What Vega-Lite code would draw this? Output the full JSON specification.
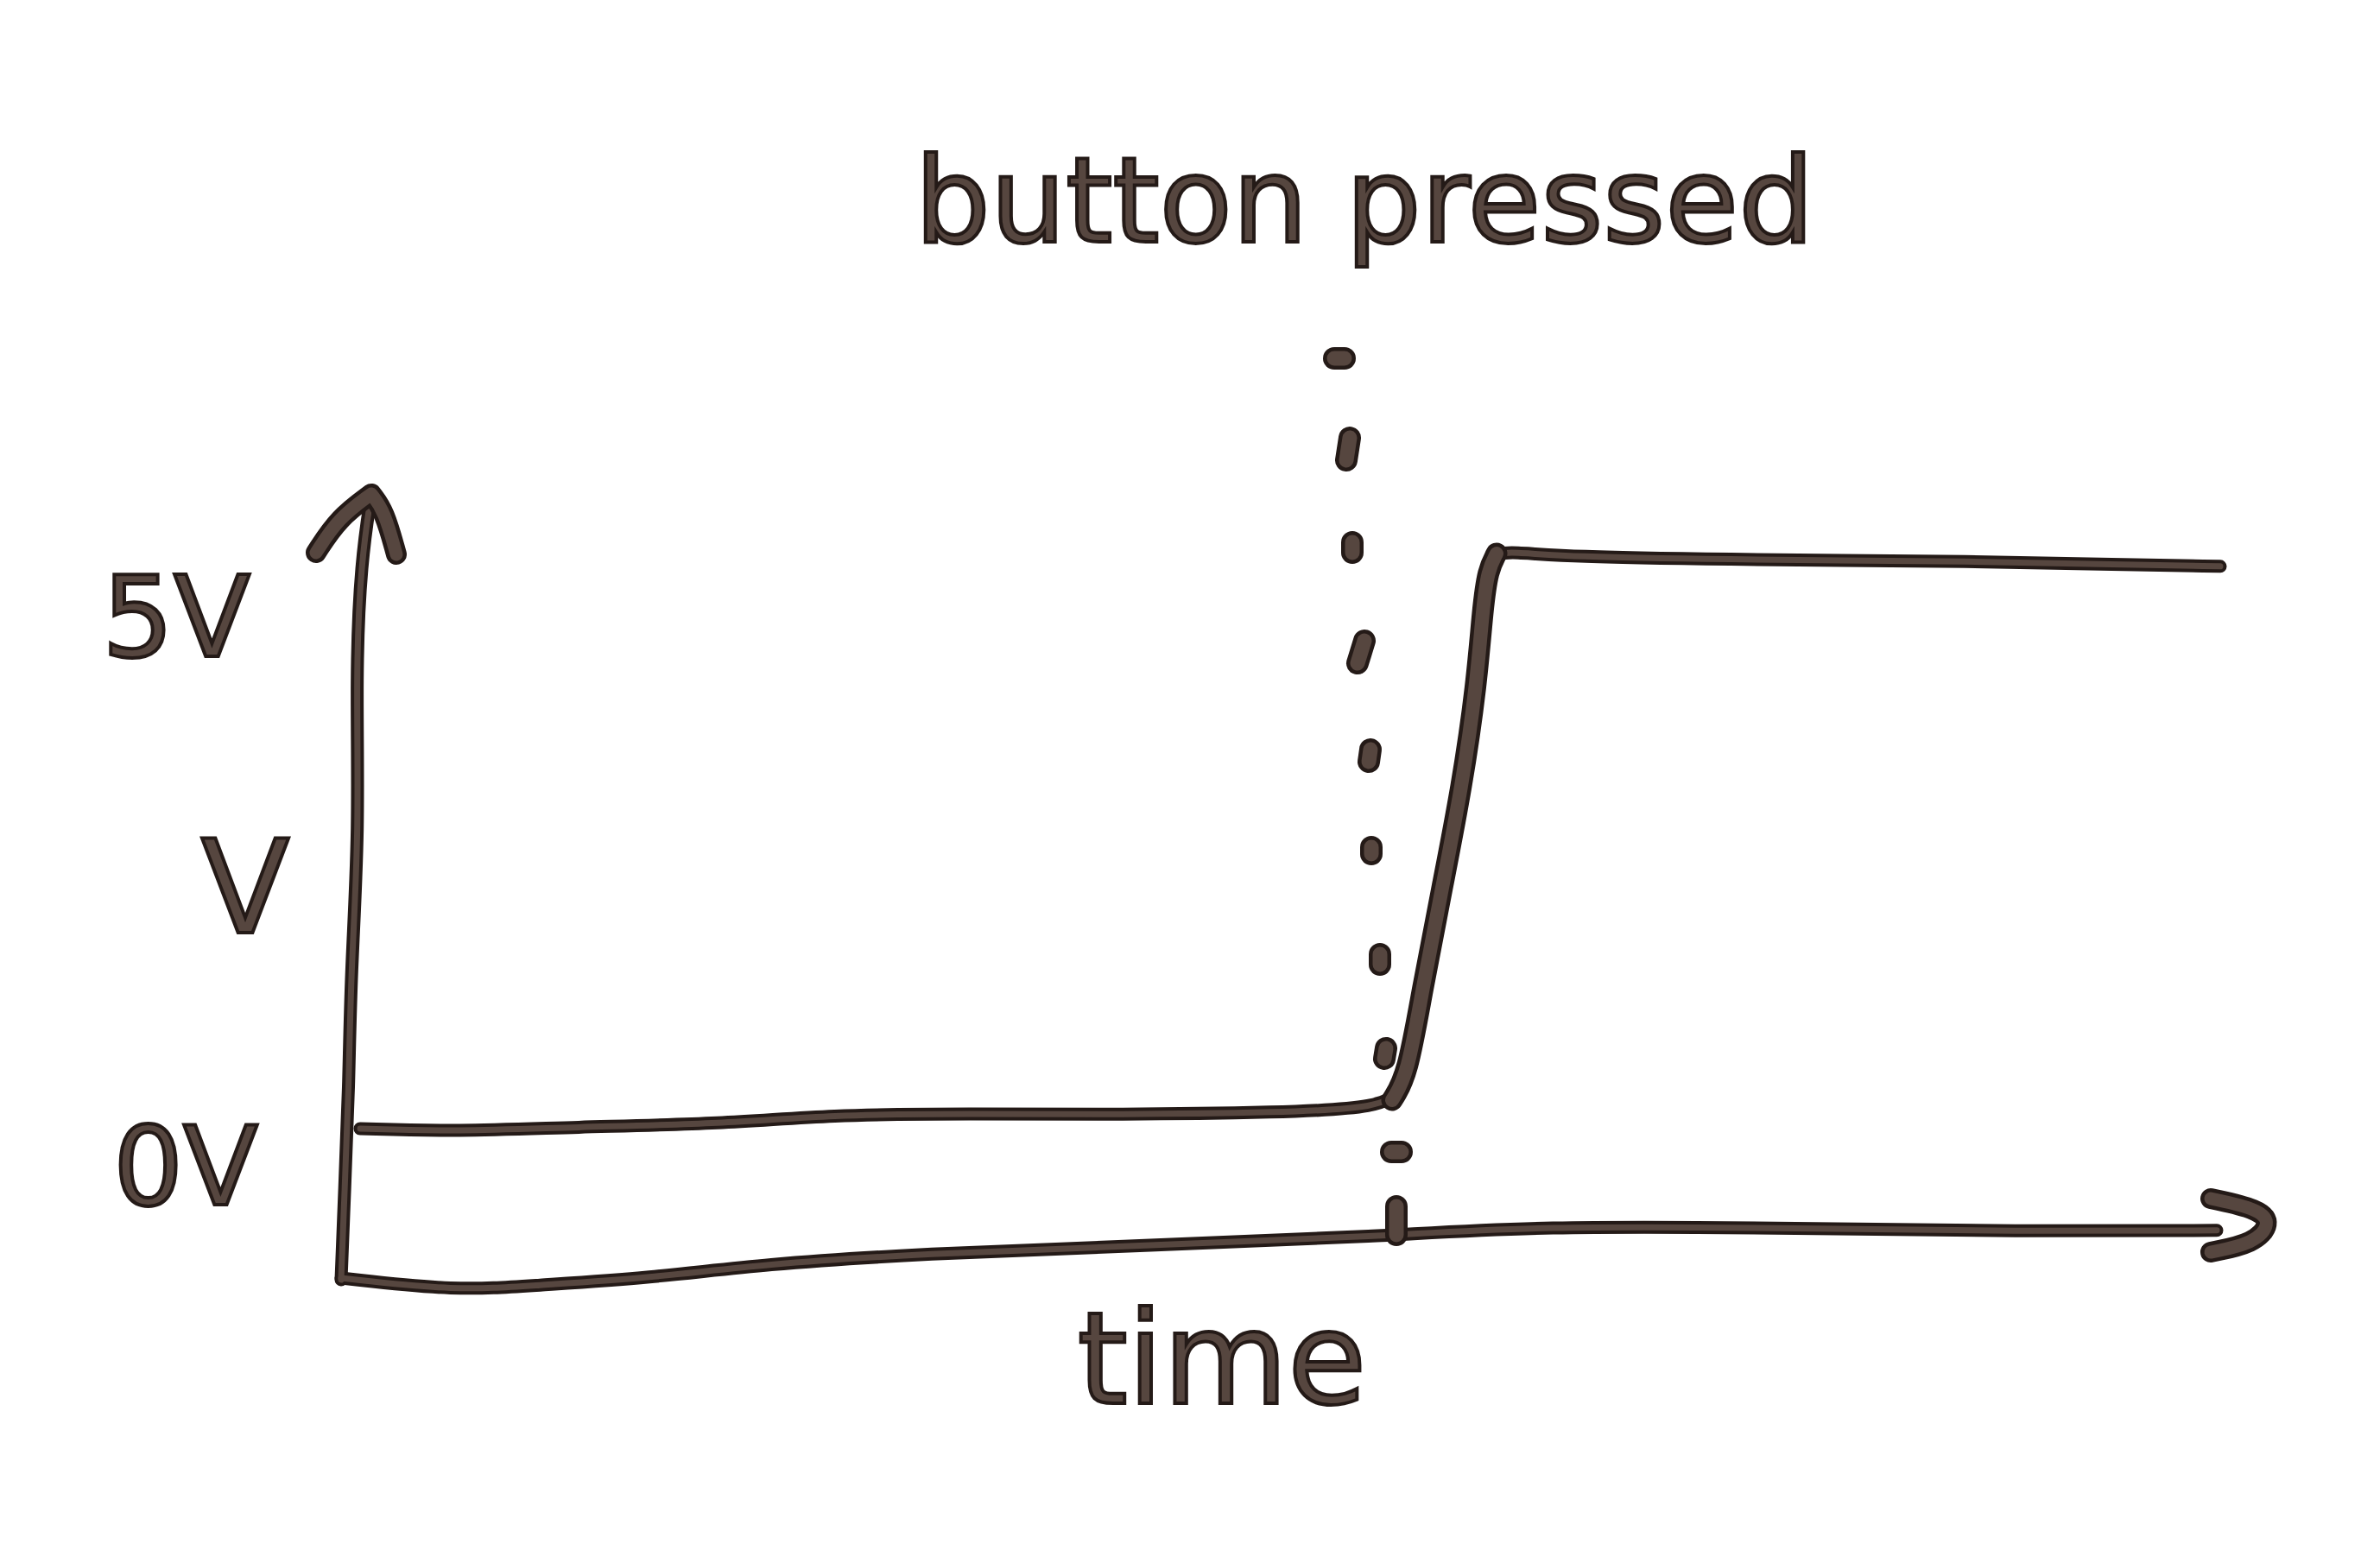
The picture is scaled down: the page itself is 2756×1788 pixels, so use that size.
{
  "$schema": "https://vega.github.io/schema/vega-lite/v6.json",
  "width": 2756,
  "height": 1788,
  "autosize": {"type": "fit", "contains": "padding"},
  "padding": 0,
  "background": "#ffffff",
  "config": {"view": {"stroke": null}},
  "datasets": {
    "paths": [
      {"path": "yaxis", "i": 0, "t": -0.25, "v": -1.4},
      {"path": "yaxis", "i": 1, "t": -0.05, "v": -0.6},
      {"path": "yaxis", "i": 2, "t": 0.2, "v": 0.3},
      {"path": "yaxis", "i": 3, "t": 0.3, "v": 1.3},
      {"path": "yaxis", "i": 4, "t": 0.8, "v": 2.6},
      {"path": "yaxis", "i": 5, "t": 0.6, "v": 4.0},
      {"path": "yaxis", "i": 6, "t": 0.9, "v": 5.0},
      {"path": "yaxis", "i": 7, "t": 1.5, "v": 5.6},
      {"path": "yarrow", "i": 0, "t": -1.7, "v": 5.077},
      {"path": "yarrow", "i": 1, "t": -0.4, "v": 5.385},
      {"path": "yarrow", "i": 2, "t": 1.5, "v": 5.6},
      {"path": "yarrow", "i": 3, "t": 1.5, "v": 5.6},
      {"path": "yarrow", "i": 4, "t": 1.5, "v": 5.6},
      {"path": "yarrow", "i": 5, "t": 2.25, "v": 5.45},
      {"path": "yarrow", "i": 6, "t": 2.95, "v": 5.062},
      {"path": "xaxis", "i": 0, "t": -0.25, "v": -1.385},
      {"path": "xaxis", "i": 1, "t": 6.45, "v": -1.5},
      {"path": "xaxis", "i": 2, "t": 10.9, "v": -1.45},
      {"path": "xaxis", "i": 3, "t": 17.6, "v": -1.385},
      {"path": "xaxis", "i": 4, "t": 24.3, "v": -1.26},
      {"path": "xaxis", "i": 5, "t": 33.2, "v": -1.17},
      {"path": "xaxis", "i": 6, "t": 46.6, "v": -1.092},
      {"path": "xaxis", "i": 7, "t": 60.0, "v": -1.015},
      {"path": "xaxis", "i": 8, "t": 68.75, "v": -0.92},
      {"path": "xaxis", "i": 9, "t": 84.55, "v": -0.94},
      {"path": "xaxis", "i": 10, "t": 96.8, "v": -0.97},
      {"path": "xaxis", "i": 11, "t": 108.35, "v": -0.96},
      {"path": "xarrow", "i": 0, "t": 108.0, "v": -0.677},
      {"path": "xarrow", "i": 1, "t": 110.8, "v": -0.769},
      {"path": "xarrow", "i": 2, "t": 111.5, "v": -0.9},
      {"path": "xarrow", "i": 3, "t": 110.5, "v": -1.077},
      {"path": "xarrow", "i": 4, "t": 108.0, "v": -1.154},
      {"path": "signal", "i": 0, "t": 0.85, "v": -0.054},
      {"path": "signal", "i": 1, "t": 6.45, "v": -0.08},
      {"path": "signal", "i": 2, "t": 13.15, "v": -0.04},
      {"path": "signal", "i": 3, "t": 22.0, "v": -0.01},
      {"path": "signal", "i": 4, "t": 28.0, "v": 0.07},
      {"path": "signal", "i": 5, "t": 36.0, "v": 0.08},
      {"path": "signal", "i": 6, "t": 45.0, "v": 0.07},
      {"path": "signal", "i": 7, "t": 54.0, "v": 0.09},
      {"path": "signal", "i": 8, "t": 60.0, "v": 0.13},
      {"path": "signal", "i": 9, "t": 61.1, "v": 0.292},
      {"path": "signal", "i": 10, "t": 61.5, "v": 0.423},
      {"path": "signal", "i": 11, "t": 62.35, "v": 1.185},
      {"path": "signal", "i": 12, "t": 63.5, "v": 2.092},
      {"path": "signal", "i": 13, "t": 64.65, "v": 3.0},
      {"path": "signal", "i": 14, "t": 65.5, "v": 3.908},
      {"path": "signal", "i": 15, "t": 65.85, "v": 4.585},
      {"path": "signal", "i": 16, "t": 66.15, "v": 4.923},
      {"path": "signal", "i": 17, "t": 66.65, "v": 5.069},
      {"path": "signal", "i": 18, "t": 67.5, "v": 5.085},
      {"path": "signal", "i": 19, "t": 70.85, "v": 5.04},
      {"path": "signal", "i": 20, "t": 80.0, "v": 5.015},
      {"path": "signal", "i": 21, "t": 95.0, "v": 5.0},
      {"path": "signal", "i": 22, "t": 102.5, "v": 4.97},
      {"path": "signal", "i": 23, "t": 108.55, "v": 4.955},
      {"path": "rise", "i": 0, "t": 60.6, "v": 0.2},
      {"path": "rise", "i": 1, "t": 61.5, "v": 0.423},
      {"path": "rise", "i": 2, "t": 62.35, "v": 1.185},
      {"path": "rise", "i": 3, "t": 63.5, "v": 2.092},
      {"path": "rise", "i": 4, "t": 64.65, "v": 3.0},
      {"path": "rise", "i": 5, "t": 65.5, "v": 3.908},
      {"path": "rise", "i": 6, "t": 65.85, "v": 4.585},
      {"path": "rise", "i": 7, "t": 66.15, "v": 4.923},
      {"path": "rise", "i": 8, "t": 66.65, "v": 5.069}
    ],
    "dots": [
      {"dot": 1, "t": 57.25, "v": 6.808, "t2": 57.85, "v2": 6.808},
      {"dot": 2, "t": 58.15, "v": 6.1, "t2": 57.95, "v2": 5.9},
      {"dot": 3, "t": 58.3, "v": 5.169, "t2": 58.3, "v2": 5.077},
      {"dot": 4, "t": 59.0, "v": 4.292, "t2": 58.6, "v2": 4.092},
      {"dot": 5, "t": 59.35, "v": 3.323, "t2": 59.25, "v2": 3.215},
      {"dot": 6, "t": 59.4, "v": 2.454, "t2": 59.4, "v2": 2.392},
      {"dot": 7, "t": 59.9, "v": 1.5, "t2": 59.9, "v2": 1.408},
      {"dot": 8, "t": 60.25, "v": 0.662, "t2": 60.15, "v2": 0.569},
      {"dot": 9, "t": 60.55, "v": -0.262, "t2": 61.15, "v2": -0.262},
      {"dot": 10, "t": 60.85, "v": -0.746, "t2": 60.85, "v2": -1.0}
    ],
    "labels": [
      {"label": "button pressed", "t": 59.0, "v": 7.846},
      {"label": "time", "t": 50.75, "v": -2.5},
      {"label": "5V", "t": -9.8, "v": 4.154},
      {"label": "V", "t": -5.8, "v": 1.692},
      {"label": "0V", "t": -9.25, "v": -0.731}
    ]
  },
  "encoding": {
    "x": {"field": "t", "type": "quantitative", "scale": {"domain": [-20, 117.8], "nice": false, "zero": false}, "axis": null},
    "y": {"field": "v", "type": "quantitative", "scale": {"domain": [-3.7538, 10], "nice": false, "zero": false}, "axis": null}
  },
  "layer": [
    {
      "data": {"name": "paths"},
      "transform": [{"filter": "datum.path == 'yaxis' || datum.path == 'xaxis' || datum.path == 'signal'"}],
      "mark": {"type": "line", "color": "#241a17", "strokeWidth": 15, "strokeCap": "round", "strokeJoin": "round", "interpolate": "basis"},
      "encoding": {"detail": {"field": "path"}, "order": {"field": "i", "type": "quantitative"}}
    },
    {
      "data": {"name": "paths"},
      "transform": [{"filter": "datum.path == 'yaxis' || datum.path == 'xaxis' || datum.path == 'signal'"}],
      "mark": {"type": "line", "color": "#56463f", "strokeWidth": 7, "strokeCap": "round", "strokeJoin": "round", "interpolate": "basis"},
      "encoding": {"detail": {"field": "path"}, "order": {"field": "i", "type": "quantitative"}}
    },
    {
      "data": {"name": "paths"},
      "transform": [{"filter": "datum.path == 'rise'"}],
      "mark": {"type": "line", "color": "#241a17", "strokeWidth": 25, "strokeCap": "round", "strokeJoin": "round", "interpolate": "basis"},
      "encoding": {"detail": {"field": "path"}, "order": {"field": "i", "type": "quantitative"}}
    },
    {
      "data": {"name": "paths"},
      "transform": [{"filter": "datum.path == 'rise'"}],
      "mark": {"type": "line", "color": "#56463f", "strokeWidth": 16, "strokeCap": "round", "strokeJoin": "round", "interpolate": "basis"},
      "encoding": {"detail": {"field": "path"}, "order": {"field": "i", "type": "quantitative"}}
    },
    {
      "data": {"name": "paths"},
      "transform": [{"filter": "datum.path == 'yarrow' || datum.path == 'xarrow'"}],
      "mark": {"type": "line", "color": "#241a17", "strokeWidth": 24, "strokeCap": "round", "strokeJoin": "round", "interpolate": "basis"},
      "encoding": {"detail": {"field": "path"}, "order": {"field": "i", "type": "quantitative"}}
    },
    {
      "data": {"name": "paths"},
      "transform": [{"filter": "datum.path == 'yarrow' || datum.path == 'xarrow'"}],
      "mark": {"type": "line", "color": "#56463f", "strokeWidth": 15, "strokeCap": "round", "strokeJoin": "round", "interpolate": "basis"},
      "encoding": {"detail": {"field": "path"}, "order": {"field": "i", "type": "quantitative"}}
    },
    {
      "data": {"name": "dots"},
      "mark": {"type": "rule", "color": "#241a17", "strokeWidth": 26, "strokeCap": "round"},
      "encoding": {"x2": {"field": "t2"}, "y2": {"field": "v2"}}
    },
    {
      "data": {"name": "dots"},
      "mark": {"type": "rule", "color": "#56463f", "strokeWidth": 17, "strokeCap": "round"},
      "encoding": {"x2": {"field": "t2"}, "y2": {"field": "v2"}}
    },
    {
      "data": {"name": "labels"},
      "transform": [{"filter": "datum.label == 'button pressed'"}],
      "mark": {"type": "text", "font": "DejaVu Sans", "fontSize": 138, "align": "center", "baseline": "alphabetic", "fill": "#56463f", "stroke": "#241a17", "strokeWidth": 4},
      "encoding": {"text": {"field": "label"}}
    },
    {
      "data": {"name": "labels"},
      "transform": [{"filter": "datum.label == 'time'"}],
      "mark": {"type": "text", "font": "DejaVu Sans", "fontSize": 148, "align": "center", "baseline": "alphabetic", "fill": "#56463f", "stroke": "#241a17", "strokeWidth": 4},
      "encoding": {"text": {"field": "label"}}
    },
    {
      "data": {"name": "labels"},
      "transform": [{"filter": "datum.label == '5V'"}],
      "mark": {"type": "text", "font": "DejaVu Sans", "fontSize": 130, "align": "center", "baseline": "alphabetic", "fill": "#56463f", "stroke": "#241a17", "strokeWidth": 4},
      "encoding": {"text": {"field": "label"}}
    },
    {
      "data": {"name": "labels"},
      "transform": [{"filter": "datum.label == 'V'"}],
      "mark": {"type": "text", "font": "DejaVu Sans", "fontSize": 150, "align": "center", "baseline": "alphabetic", "fill": "#56463f", "stroke": "#241a17", "strokeWidth": 4},
      "encoding": {"text": {"field": "label"}}
    },
    {
      "data": {"name": "labels"},
      "transform": [{"filter": "datum.label == '0V'"}],
      "mark": {"type": "text", "font": "DejaVu Sans", "fontSize": 127, "align": "center", "baseline": "alphabetic", "fill": "#56463f", "stroke": "#241a17", "strokeWidth": 4},
      "encoding": {"text": {"field": "label"}}
    }
  ]
}
